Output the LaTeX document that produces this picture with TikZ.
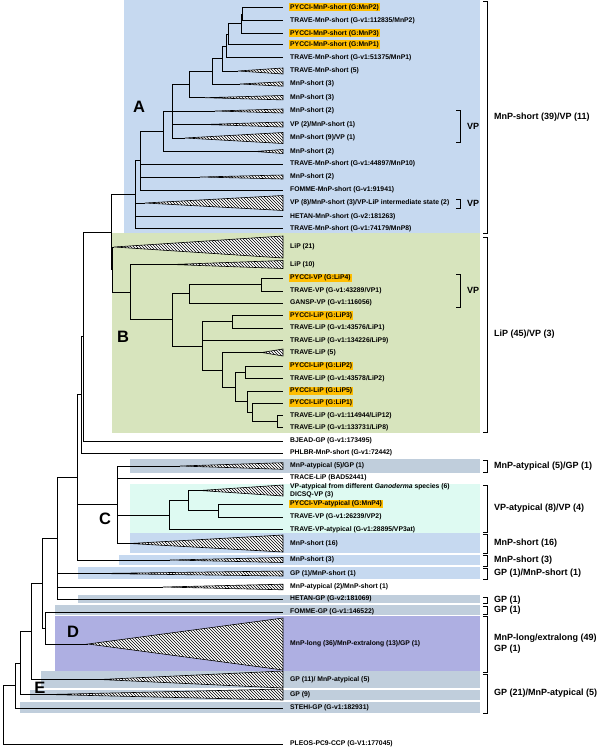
\documentclass[tikz,border=0pt]{standalone}
\usepackage{fontspec}
\setmainfont{Liberation Sans}
\usetikzlibrary{patterns}

\definecolor{bgshort}{RGB}{198,217,240}
\definecolor{bglip}{RGB}{215,228,189}
\definecolor{bgatyp}{RGB}{222,250,242}
\definecolor{bglong}{RGB}{174,175,226}
\definecolor{bggp}{RGB}{192,206,220}
\definecolor{pycci}{RGB}{255,190,0}

\tikzset{
    branch/.style={line width=0.7pt},
    collapsed/.style={line width=0.6pt, pattern=north west lines, preaction={fill=white}},
    lbl/.style={anchor=west, inner sep=1pt, align=left, font=\fontsize{6.8}{8}\selectfont\bfseries},
    hl/.style={lbl, fill=pycci},
    grp/.style={anchor=west, inner sep=0pt, align=left, font=\fontsize{9}{11}\selectfont\bfseries},
    letter/.style={inner sep=0pt, font=\fontsize{16.5}{18}\selectfont\bfseries},
    brk/.style={line width=0.7pt}
}

\newcommand\tipleaf[4][lbl]{%
    \coordinate (#2) at (283,#3);
    \node[#1] (#2t) at (289,#3) {#4};}
\newcommand\trileaf[5]{%
    \coordinate (#1) at (#2,#3);
    \draw[collapsed] (#1) -- (283,{#3-#4}) -- (283,{#3+#4}) -- cycle;
    \node[lbl] (#1t) at (289,#3) {#5};}
\newcommand\grpbracket[5]{%
    \draw[brk] ({#2-4},#3) -| (#2,#4) -- ({#2-4},#4);
    \node[grp] (#1) at ({#2+7},{(#3+#4)/2}) {#5};}

\begin{document}
\begin{tikzpicture}[x=1pt, y=-1pt]
    \useasboundingbox (0,0) rectangle (600,749);

    \fill[bgshort] (124,0) rectangle (480,233);
    \fill[bglip] (112,233) rectangle (480,433);
    \fill[bggp] (130,459) rectangle (480,473);
    \fill[bgatyp] (130,484) rectangle (480,533);
    \fill[bgshort] (130,533) rectangle (480,553);
    \fill[bgshort] (119,555) rectangle (480,565);
    \fill[bgshort] (78,567) rectangle (480,579);
    \fill[bggp] (78,595) rectangle (480,603);
    \fill[bggp] (55,605) rectangle (480,615);
    \fill[bglong] (55,616) rectangle (480,671);
    \fill[bggp] (41,671) rectangle (480,688);
    \fill[bggp] (30,690) rectangle (480,700);
    \fill[bggp] (20,702) rectangle (480,713);

    \tipleaf[hl]{r1}{7.3}{PYCCI-MnP-short (G:MnP2)}
    \tipleaf{r2}{20.7}{TRAVE-MnP-short (G-v1:112835/MnP2)}
    \tipleaf[hl]{r3}{33.3}{PYCCI-MnP-short (G:MnP3)}
    \tipleaf[hl]{r4}{44.5}{PYCCI-MnP-short (G:MnP1)}
    \tipleaf{r5}{57.7}{TRAVE-MnP-short (G-v1:51375/MnP1)}
    \trileaf{r6}{238}{71}{3}{TRAVE-MnP-short (5)}
    \trileaf{r7}{240}{84}{2.2}{MnP-short (3)}
    \trileaf{r8}{205}{97.7}{2.2}{MnP-short (3)}
    \trileaf{r9}{215}{111}{2}{MnP-short (2)}
    \trileaf{r10}{205}{124.5}{2.5}{VP (2)/MnP-short (1)}
    \trileaf{r11}{185}{138}{5.5}{MnP-short (9)/VP (1)}
    \trileaf{r12}{255}{151.5}{2}{MnP-short (2)}
    \tipleaf{r13}{164}{TRAVE-MnP-short (G-v1:44897/MnP10)}
    \trileaf{r14}{200}{177}{2}{MnP-short (2)}
    \tipleaf{r15}{190}{FOMME-MnP-short (G-v1:91941)}
    \trileaf{r16}{145}{203}{7.5}{VP (8)/MnP-short (3)/VP-LiP intermediate state (2)}
    \tipleaf{r17}{216.5}{HETAN-MnP-short (G-v2:181263)}
    \tipleaf{r18}{228.5}{TRAVE-MnP-short (G-v1:74179/MnP8)}

    \trileaf{r19}{114}{247}{11}{LiP (21)}
    \trileaf{r20}{172}{264.5}{4}{LiP (10)}
    \tipleaf[hl]{r21}{278}{PYCCI-VP (G:LiP4)}
    \tipleaf{r22}{291}{TRAVE-VP (G-v1:43289/VP1)}
    \tipleaf{r23}{303}{GANSP-VP (G-v1:116056)}
    \tipleaf[hl]{r24}{315.5}{PYCCI-LiP (G:LiP3)}
    \tipleaf{r25}{328}{TRAVE-LiP (G-v1:43576/LiP1)}
    \tipleaf{r26}{340.5}{TRAVE-LiP (G-v1:134226/LiP9)}
    \trileaf{r27}{262}{352.5}{3.5}{TRAVE-LiP (5)}
    \tipleaf[hl]{r28}{366}{PYCCI-LiP (G:LiP2)}
    \tipleaf{r29}{378.5}{TRAVE-LiP (G-v1:43578/LiP2)}
    \tipleaf[hl]{r30}{391}{PYCCI-LiP (G:LiP5)}
    \tipleaf[hl]{r31}{403}{PYCCI-LiP (G:LiP1)}
    \tipleaf{r32}{415.5}{TRAVE-LiP (G-v1:114944/LiP12)}
    \tipleaf{r33}{427.5}{TRAVE-LiP (G-v1:133731/LiP8)}

    \tipleaf{r34}{441}{BJEAD-GP (G-v1:173495)}
    \tipleaf{r35}{453}{PHLBR-MnP-short (G-v1:72442)}
    \trileaf{r36}{180}{466}{3.3}{MnP-atypical (5)/GP (1)}
    \tipleaf{r37}{478}{TRACE-LiP (BAD52441)}
    \trileaf{r38}{200}{490.5}{5.5}{VP-atypical from different \textit{Ganoderma} species (6)\\DICSQ-VP (3)}
    \tipleaf[hl]{r39}{504}{PYCCI-VP-atypical (G:MnP4)}
    \tipleaf{r40}{517}{TRAVE-VP (G-v1:26239/VP2)}
    \tipleaf{r41}{529.5}{TRAVE-VP-atypical (G-v1:28895/VP3at)}
    \trileaf{r42}{130}{543.5}{8.5}{MnP-short (16)}
    \trileaf{r43}{170}{560}{2.5}{MnP-short (3)}
    \trileaf{r44}{97}{573.5}{2.5}{GP (1)/MnP-short (1)}
    \trileaf{r45}{163}{587}{2.8}{MnP-atypical (2)/MnP-short (1)}
    \tipleaf{r46}{599}{HETAN-GP (G-v2:181069)}
    \tipleaf{r47}{612}{FOMME-GP (G-v1:146522)}
    \trileaf{r48}{88}{644}{26}{MnP-long (36)/MnP-extralong (13)/GP (1)}
    \trileaf{r49}{100}{679.5}{8.5}{GP (11)/ MnP-atypical (5)}
    \trileaf{r50}{48}{694.5}{5.5}{GP (9)}
    \tipleaf{r51}{708}{STEHI-GP (G-v1:182931)}
    \tipleaf{r52}{744}{PLEOS-PC9-CCP (G-V1:177045)}

    \coordinate (a10) at (242.5,14);
    \coordinate (a9) at (241,23.65);
    \coordinate (a8) at (228,34.1);
    \coordinate (a7) at (226,45.9);
    \coordinate (a6) at (222.7,58.45);
    \coordinate (a5) at (212,71.2);
    \coordinate (a4) at (189,84.45);
    \coordinate (a3) at (172,111.2);
    \coordinate (a2) at (163,131.35);
    \coordinate (a1) at (140,160.7);
    \coordinate (a0) at (135,194.6);
    \coordinate (b6) at (261,284.5);
    \coordinate (b5) at (189,293.75);
    \coordinate (b9) at (232,321.75);
    \coordinate (b12) at (245,372.25);
    \coordinate (b15) at (277,421.5);
    \coordinate (b14) at (252,412.25);
    \coordinate (b13) at (247,401.6);
    \coordinate (b11) at (235,386.9);
    \coordinate (b10) at (222,369.95);
    \coordinate (b8) at (202,345.85);
    \coordinate (b4) at (172,319.8);
    \coordinate (b3) at (130,291.9);
    \coordinate (b2) at (112.5,269.45);
    \coordinate (ab) at (111,232);
    \coordinate (n8) at (83,336.5);
    \coordinate (n7) at (81.5,394.75);
    \coordinate (c3) at (218,510.5);
    \coordinate (c2) at (188,500.5);
    \coordinate (c1) at (169,515);
    \coordinate (nx) at (117,504.75);
    \coordinate (n6) at (77.5,477.4);
    \coordinate (n5) at (57,538.2);
    \coordinate (nd) at (45,628);
    \coordinate (n4) at (42,583.1);
    \coordinate (n3) at (31,631.3);
    \coordinate (n2) at (20.5,662.9);
    \coordinate (n1) at (15,685.45);
    \coordinate (root) at (3,714.7);

    \draw[branch]
        (a10) |- (r1) (a10) |- (r2)
        (a9) |- (a10) (a9) |- (r3)
        (a8) |- (a9) (a8) |- (r4)
        (a7) |- (a8) (a7) |- (r5)
        (a6) |- (a7) (a6) |- (r6)
        (a5) |- (a6) (a5) |- (r7)
        (a4) |- (a5) (a4) |- (r8)
        (a3) |- (a4) (a3) |- (r9) (a3) |- (r10) (a3) |- (r11)
        (a2) |- (a3) (a2) |- (r12)
        (a1) |- (a2) (a1) |- (r13) (a1) |- (r14) (a1) |- (r15)
        (a0) |- (a1) (a0) |- (r16) (a0) |- (r17) (a0) |- (r18)
        (b6) |- (r21) (b6) |- (r22)
        (b5) |- (b6) (b5) |- (r23)
        (b9) |- (r24) (b9) |- (r25)
        (b12) |- (r28) (b12) |- (r29)
        (b15) |- (r32) (b15) |- (r33)
        (b14) |- (r31) (b14) |- (b15)
        (b13) |- (r30) (b13) |- (b14)
        (b11) |- (b12) (b11) |- (b13)
        (b10) |- (r27) (b10) |- (b11)
        (b8) |- (b9) (b8) |- (r26) (b8) |- (b10)
        (b4) |- (b5) (b4) |- (b8)
        (b3) |- (r20) (b3) |- (b4)
        (b2) |- (r19) (b2) |- (b3)
        (ab) |- (a0) (ab) |- (b2)
        (n8) |- (ab) (n8) |- (r34)
        (n7) |- (n8) (n7) |- (r35)
        (c3) |- (r39) (c3) |- (r40)
        (c2) |- (r38) (c2) |- (c3)
        (c1) |- (c2) (c1) |- (r41)
        (nx) |- (r36) (nx) |- (r37) (nx) |- (c1) (nx) |- (r42)
        (n6) |- (n7) (n6) |- (nx) (n6) |- (r43)
        (n5) |- (n6) (n5) |- (r44) (n5) |- (r45) (n5) |- (r46)
        (nd) |- (r47) (nd) |- (r48)
        (n4) |- (n5) (n4) |- (nd)
        (n3) |- (n4) (n3) |- (r49)
        (n2) |- (n3) (n2) |- (r50)
        (n1) |- (n2) (n1) |- (r51)
        (root) |- (n1) (root) |- (r52);

    \node[letter] (labA) at (139,107) {A};
    \node[letter] (labB) at (123,337) {B};
    \node[letter] (labC) at (105,519) {C};
    \node[letter] (labD) at (73,632) {D};
    \node[letter] (labE) at (40,688) {E};

    \grpbracket{vp1}{460}{110}{142}{VP}
    \grpbracket{vp2}{460}{199}{208}{VP}
    \grpbracket{vp3}{460}{274}{307}{VP}

    \grpbracket{g1}{487}{1}{233}{MnP-short (39)/VP (11)}
    \grpbracket{g2}{487}{237}{432}{LiP (45)/VP (3)}
    \grpbracket{g3}{487}{460}{472}{MnP-atypical (5)/GP (1)}
    \grpbracket{g4}{487}{485}{532}{VP-atypical (8)/VP (4)}
    \grpbracket{g5}{487}{534}{553}{MnP-short (16)}
    \grpbracket{g6}{487}{555}{566}{MnP-short (3)}
    \grpbracket{g7}{487}{568}{579}{GP (1)/MnP-short (1)}
    \grpbracket{g8}{487}{597}{603}{GP (1)}
    \grpbracket{g9}{487}{606}{614}{GP (1)}
    \grpbracket{g10}{487}{616}{672}{MnP-long/extralong (49)\\GP (1)}
    \grpbracket{g11}{487}{674}{713}{GP (21)/MnP-atypical (5)}
\end{tikzpicture}
\end{document}
